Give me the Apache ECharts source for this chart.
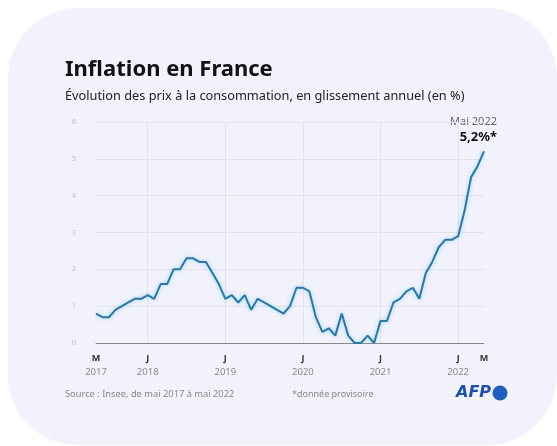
<!DOCTYPE html>
<html><head><meta charset="utf-8">
<script src="https://cdn.jsdelivr.net/npm/echarts@6/dist/echarts.min.js"></script>
<style>html,body{margin:0;padding:0;background:#fff;}#c{width:557px;height:446px;}</style>
</head><body><div id="c"></div>
<script>
// Monthly categories, May 2017 .. May 2022
const months = [
 "2017-05","2017-06","2017-07","2017-08","2017-09","2017-10","2017-11","2017-12",
 "2018-01","2018-02","2018-03","2018-04","2018-05","2018-06","2018-07","2018-08","2018-09","2018-10","2018-11","2018-12",
 "2019-01","2019-02","2019-03","2019-04","2019-05","2019-06","2019-07","2019-08","2019-09","2019-10","2019-11","2019-12",
 "2020-01","2020-02","2020-03","2020-04","2020-05","2020-06","2020-07","2020-08","2020-09","2020-10","2020-11","2020-12",
 "2021-01","2021-02","2021-03","2021-04","2021-05","2021-06","2021-07","2021-08","2021-09","2021-10","2021-11","2021-12",
 "2022-01","2022-02","2022-03","2022-04","2022-05"
];
const inflation = [
 0.8,0.7,0.7,0.9,1.0,1.1,1.2,1.2,
 1.3,1.2,1.6,1.6,2.0,2.0,2.3,2.3,2.2,2.2,1.9,1.6,
 1.2,1.3,1.1,1.3,0.9,1.2,1.1,1.0,0.9,0.8,1.0,1.5,
 1.5,1.4,0.7,0.3,0.4,0.2,0.8,0.2,0.0,0.0,0.2,0.0,
 0.6,0.6,1.1,1.2,1.4,1.5,1.2,1.9,2.2,2.6,2.8,2.8,
 2.9,3.6,4.5,4.8,5.2
];
// x tick labels: category -> [letter, year]
const xTickLabels = {
 "2017-05":["M","2017"], "2018-01":["J","2018"], "2019-01":["J","2019"],
 "2020-01":["J","2020"], "2021-01":["J","2021"], "2022-01":["J","2022"], "2022-05":["M",""]
};
const yTicks = [0,1,2,3,4,5,6];

const chart = echarts.init(document.getElementById('c'));
const F = "'Noto Sans', 'Open Sans', sans-serif";
chart.setOption({
 backgroundColor:'#ffffff',
 animation:false,
 graphic:[
  {type:'rect', z:-10, shape:{x:8,y:8,width:549,height:437,r:70}, style:{fill:'#f2f2fc'}},
  {type:'text', left:65, top:59, style:{text:'Inflation en France', font:"bold 22px "+F, fill:'#111'}},
  {type:'text', left:65, top:90, style:{text:'Évolution des prix à la consommation, en glissement annuel (en %)', font:"12.75px "+F, fill:'#222'}},
  {type:'text', right:60, top:116, style:{text:'Mai 2022', font:"11px "+F, fill:'#666', textAlign:'right'}},
  {type:'text', right:60, top:131, style:{text:'5,2%*', font:"bold 13px "+F, fill:'#111', textAlign:'right'}},
  {type:'text', left:65, top:390, style:{text:'Source : Insee, de mai 2017 à mai 2022', font:"9.3px "+F, fill:'#888'}},
  {type:'text', left:292, top:390, style:{text:'*donnée provisoire', font:"9px "+F, fill:'#888'}},
  {type:'text', left:456, top:385, style:{text:'AFP', font:"italic bold 16px 'DejaVu Sans', sans-serif", fill:'#1f4fae'}},
  {type:'circle', shape:{cx:500,cy:393,r:7.5}, style:{fill:'#1f5fc0'}}
 ],
 grid:{left:96,right:73,top:122,bottom:103},
 xAxis:{
  type:'category', data:months, boundaryGap:false,
  axisLine:{show:true, lineStyle:{color:'#888',width:1}},
  axisTick:{show:false},
  splitLine:{show:true, interval:(i,v)=>v.endsWith('-01'), lineStyle:{color:'#e2e2ea',width:1}},
  axisLabel:{
   interval:(i,v)=>xTickLabels[v]!==undefined,
   margin:8,
   formatter:(v)=>{const t=xTickLabels[v]; return t?('{a|'+t[0]+'}\n{b|'+(t[1]||' ')+'}'):'';},
   rich:{a:{fontSize:9,fontWeight:'bold',color:'#333',fontFamily:F,lineHeight:14},
         b:{fontSize:9.5,color:'#8a8a8a',fontFamily:F,lineHeight:14}}
  }
 },
 yAxis:{
  type:'value', min:0, max:6, interval:1,
  axisLine:{show:false}, axisTick:{show:false},
  splitLine:{show:true, lineStyle:{color:'#e2e2ea',width:1}},
  axisLabel:{margin:20, fontSize:7, color:'#bbb', fontFamily:F,
   formatter:(v)=>yTicks.includes(v)?String(v):''}
 },
 series:[{
  type:'line', data:inflation, symbol:'none',
  lineStyle:{color:'#2a78a6', width:2, shadowColor:'rgba(110,200,240,0.7)', shadowBlur:4}
 }]
});
</script></body></html>
